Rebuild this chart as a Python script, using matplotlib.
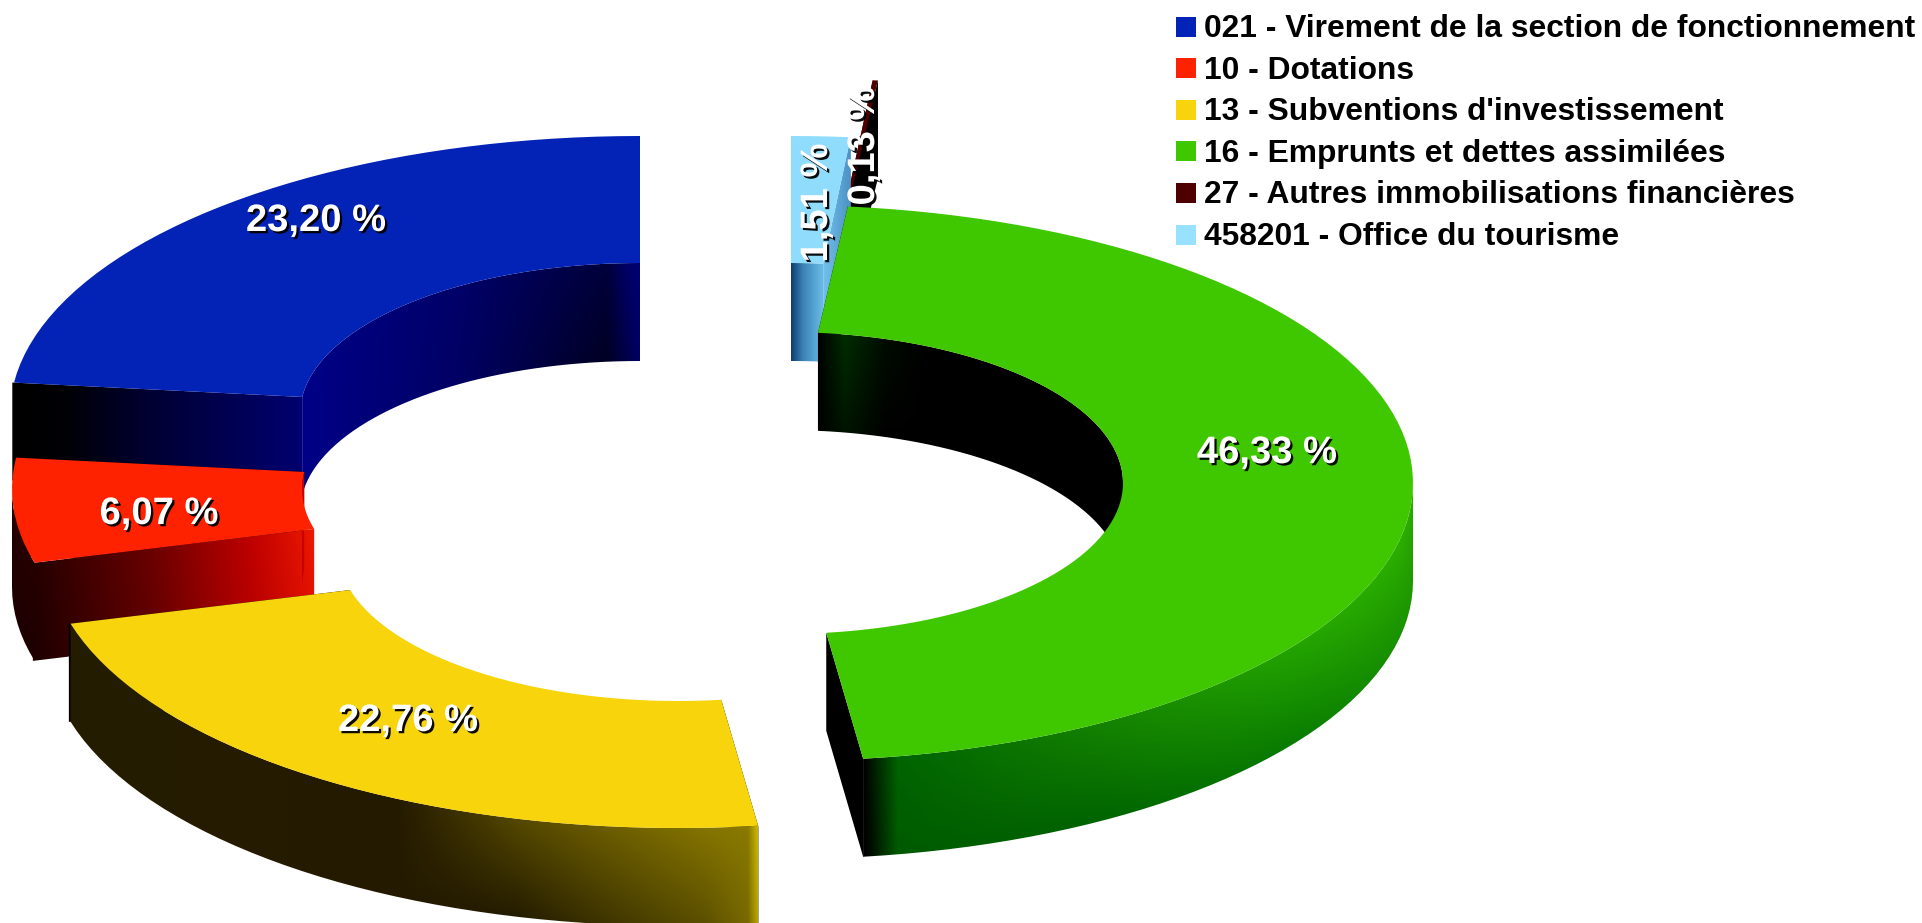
import numpy as np
import matplotlib
matplotlib.use("Agg")
import matplotlib.pyplot as plt
import matplotlib.patheffects as pe
from matplotlib.patches import Polygon, Rectangle

# ---- data ----
categories = ["021 - Virement de la section de fonctionnement", "10 - Dotations",
              "13 - Subventions d'investissement", "16 - Emprunts et dettes assimilées",
              "27 - Autres immobilisations financières", "458201 - Office du tourisme"]
shares = [23.20, 6.07, 22.76, 46.33, 0.13, 1.51]

# ---- style ----
colors = ["#0322B6", "#FF2200", "#F7D40B", "#3FC800", "#4E0000", "#99E2FF"]
top_colors = ["#0322B6", "#FF2200", "#F7D40B", "#3FC800", "#4E0000", "#8FDCFC"]
centers = [(640, 414), (642, 489), (678, 550), (783, 483), (813, 357), (791, 414)]
A, B, IA, IB, H = 630, 278, 340, 151, 98
draw_order = [4, 5, 0, 1, 2, 3]
label_pos = [(316, 221), (159, 514), (408, 721), (1267, 453), (864, 146), (817, 203)]
label_rot = [0, 0, 0, 0, 90, 90]

# gradient stops per wall: (x, top colour, bottom colour)
K = (0, 0, 0)
BLACK = [(0, K, K), (2000, K, K)]
outer_stops = [
    BLACK,
    [(14, (38, 0, 0), (30, 0, 0)), (40, (38, 0, 0), (30, 0, 0))],
    [(69, (36, 29, 0), (36, 29, 0)), (396, (36, 26, 0), (36, 26, 0)), (517, (85, 72, 0), (36, 28, 0)),
     (704, (132, 116, 0), (90, 78, 0)), (748, (138, 122, 0), (120, 105, 0)), (758, (205, 185, 0), (185, 165, 0))],
    [(864, K, K), (872, (0, 25, 0), (0, 15, 0)), (898, (0, 100, 0), (0, 90, 0)), (1100, (20, 130, 0), (0, 100, 0)),
     (1300, (36, 165, 0), (10, 125, 0)), (1400, (44, 175, 0), (25, 145, 0)), (1413, (44, 170, 0), (30, 150, 0))],
    BLACK,
    BLACK,
]
inner_stops = [
    [(303, (0, 0, 135), (0, 0, 135)), (457, (0, 0, 105), (0, 0, 100)), (607, (0, 0, 60), (0, 0, 35)),
     (625, (0, 0, 100), (0, 0, 70)), (640, (0, 0, 115), (0, 0, 100))],
    [(0, (200, 0, 0), (200, 0, 0)), (2000, (200, 0, 0), (200, 0, 0))],
    BLACK,
    [(818, K, K), (845, (0, 45, 0), (0, 20, 0)), (885, (0, 12, 0), K), (925, K, K), (2000, K, K)],
    BLACK,
    [(791, (10, 60, 110), (10, 60, 110)), (803, (60, 130, 180), (60, 130, 180)), (822, (105, 185, 230), (105, 185, 230))],
]
cut_start_stops = [BLACK, BLACK, BLACK, BLACK, BLACK,
                   [(822, (115, 195, 238), (115, 195, 238)), (851, (75, 145, 195), (75, 145, 195))]]
cut_end_stops = [
    [(14, K, K), (66, (0, 0, 6), (0, 0, 6)), (150, (0, 0, 50), (0, 0, 50)), (303, (0, 0, 112), (0, 0, 112))],
    [(14, (32, 0, 0), (28, 0, 0)), (36, (38, 0, 0), (30, 0, 0)), (150, (105, 0, 0), (95, 0, 0)), (250, (190, 0, 0), (180, 0, 0)), (316, (238, 25, 0), (225, 15, 0))],
    BLACK, BLACK, BLACK, BLACK,
]

fig = plt.figure(figsize=(19.22, 9.23), dpi=100, facecolor="white")
ax = fig.add_axes([0, 0, 1, 1])
ax.set_xlim(0, 1922)
ax.set_ylim(923, 0)
ax.set_autoscale_on(False)
ax.axis("off")


def arc(c, a, b, t0, t1, step=2.0):
    n = max(int(np.ceil((t1 - t0) / step)), 1)
    t = np.radians(np.linspace(t0, t1, n + 1))
    return c[0] - a * np.sin(t), c[1] - b * np.cos(t)


def channel(stops, x, idx):
    xs = [s[0] for s in stops]
    return np.column_stack([np.interp(x, xs, [s[idx][k] for s in stops]) for k in range(3)]) / 255


def wall(xs, ys, stops, z):
    """Extruded band under the path (xs, ys), painted pixel by pixel and clipped to its outline."""
    xs, ys = np.asarray(xs, float), np.asarray(ys, float)
    if xs[0] > xs[-1]:
        xs, ys = xs[::-1], ys[::-1]
    if xs[-1] - xs[0] < 0.5:
        return
    x0, x1 = int(np.floor(xs[0])) - 1, int(np.ceil(xs[-1])) + 1
    y0, y1 = int(np.floor(ys.min())) - 1, int(np.ceil(ys.max() + H)) + 1
    xc = np.arange(x0, x1) + .5
    yc = np.arange(y0, y1) + .5
    ytop = np.interp(xc, xs, ys)
    t = np.clip((yc[:, None] - ytop[None, :]) / H, 0, 1)[..., None]
    img = channel(stops, xc, 1)[None, :, :] * (1 - t) + channel(stops, xc, 2)[None, :, :] * t
    im = ax.imshow(img, extent=(x0, x1, y1, y0), origin="upper", interpolation="nearest", aspect="auto", zorder=z)
    outline = np.column_stack([np.r_[xs, xs[::-1]], np.r_[ys, ys[::-1] + H]])
    im.set_clip_path(Polygon(outline, closed=True, transform=ax.transData))


bounds = np.concatenate([[0], np.cumsum(shares)]) * 3.6
z = 1
for i in draw_order:
    t0, t1 = bounds[i], bounds[i + 1]
    c = centers[i]
    for t, st in ((t0, cut_start_stops[i]), (t1, cut_end_stops[i])):
        xo, yo = arc(c, A, B, t, t)
        xi, yi = arc(c, IA, IB, t, t)
        # run the face slightly past the outer corner so it tucks under the outer wall
        ext = 0.006
        xe = xo[0] + (xo[0] - xi[0]) * ext
        ye = yo[0] + (yo[0] - yi[0]) * ext
        wall([xe, xi[0]], [ye, yi[0]], st, z)
    z += 1
    # inner wall faces the viewer on the far half, outer wall on the near half
    for lo, hi in ((t0, min(t1, 90)), (max(t0, 270), t1)):
        if hi > lo:
            xi, yi = arc(c, IA, IB, lo, hi)
            wall(xi, yi, inner_stops[i], z)
    z += 1
    lo, hi = max(t0, 90), min(t1, 270)
    if hi > lo:
        xo, yo = arc(c, A, B, lo, hi)
        wall(xo, yo, outer_stops[i], z)
    z += 1
    xo, yo = arc(c, A, B, t0, t1)
    xi, yi = arc(c, IA, IB, t0, t1)
    poly = np.column_stack([np.r_[xo, xi[::-1]], np.r_[yo, yi[::-1]]])
    ax.add_patch(Polygon(poly, closed=True, facecolor=top_colors[i], edgecolor="none", zorder=z))
    z += 1

# value labels
shadow = [pe.withSimplePatchShadow(offset=(1.6, -1.6), shadow_rgbFace="black", alpha=0.95)]
for i in range(len(shares)):
    txt = f"{shares[i]:.2f}".replace(".", ",") + " %"
    t = ax.text(label_pos[i][0], label_pos[i][1], txt, color="white", fontsize=27.5,
                family="Liberation Sans", fontweight="bold", ha="center", va="center",
                rotation=label_rot[i], zorder=100)
    t.set_path_effects(shadow)

# legend
for i, name in enumerate(categories):
    y = 26.5 + i * 41.6
    ax.add_patch(Rectangle((1176, y - 10), 20, 20, facecolor=colors[i], edgecolor="none", zorder=100))
    ax.text(1204, y + 2.5, name, color="black", fontsize=22.85, family="Liberation Sans",
            fontweight="bold", ha="left", va="center", zorder=100)

fig.savefig("out.png", dpi=100, facecolor="white")
